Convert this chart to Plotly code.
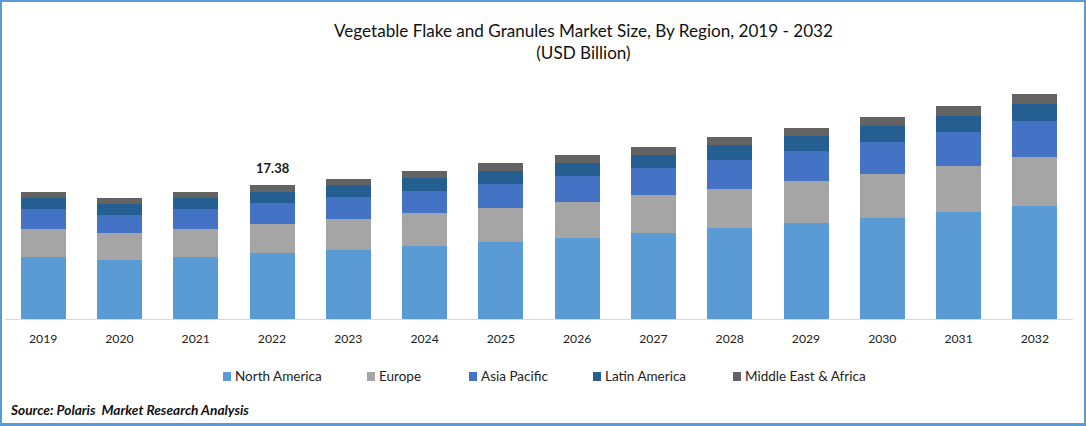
import plotly.graph_objects as go

years = ["2019", "2020", "2021", "2022", "2023", "2024", "2025", "2026", "2027", "2028", "2029", "2030", "2031", "2032"]

north_america = [8.04, 7.65, 8.04, 8.56, 8.95, 9.47, 9.99, 10.51, 11.15, 11.80, 12.45, 13.10, 13.88, 14.66]
europe = [3.63, 3.50, 3.63, 3.76, 4.02, 4.28, 4.41, 4.67, 4.93, 5.06, 5.45, 5.71, 5.97, 6.36]
asia_pacific = [2.59, 2.33, 2.59, 2.72, 2.85, 2.85, 3.11, 3.37, 3.50, 3.76, 3.89, 4.15, 4.41, 4.67]
latin_america = [1.43, 1.43, 1.43, 1.43, 1.56, 1.69, 1.69, 1.69, 1.69, 1.95, 1.95, 2.08, 2.08, 2.20]
middle_east_africa = [0.78, 0.78, 0.78, 0.91, 0.78, 0.91, 1.04, 1.04, 1.04, 1.04, 1.04, 1.17, 1.30, 1.30]

series_names = ["North America", "Europe", "Asia Pacific", "Latin America", "Middle East & Africa"]
series_values = [north_america, europe, asia_pacific, latin_america, middle_east_africa]
colors = ["#5B9BD5", "#A5A5A5", "#4472C4", "#255E91", "#636363"]

label_year = "2022"
label_total = 17.38

font = "Lato"
border = "#5B9BD5"

# plot area in page pixels, used to turn page positions into paper coords
plot_left, plot_width = 5, 1068
plot_bottom, plot_height = 319, 249


def px(x):
    return (x - plot_left) / plot_width


def py(y):
    return (plot_bottom - y) / plot_height


fig = go.Figure()
for name, values, color in zip(series_names, series_values, colors):
    fig.add_trace(go.Bar(x=years, y=values, name=name, marker=dict(color=color, line=dict(width=0))))

# category axis reads a numeric looking string as a position, so pass the index
fig.add_annotation(x=years.index(label_year), y=label_total, text="<b>%.2f</b>" % label_total, showarrow=False,
                   yanchor="bottom", xshift=1, yshift=7, font=dict(family=font, size=13, color="#1a1a1a"))

fig.add_annotation(x=px(583), y=py(18), xref="paper", yref="paper", xanchor="center", yanchor="top", showarrow=False,
                   text="Vegetable Flake and Granules Market Size, By Region, 2019 - 2032<br>(USD Billion)",
                   font=dict(family=font, size=17.1, color="#111111"))

# legend drawn by hand, the native one can't do these small swatches and gaps
legend_left = [223, 367, 469, 593, 733]
for name, color, left in zip(series_names, colors, legend_left):
    fig.add_shape(type="rect", xref="paper", yref="paper", x0=px(left), x1=px(left + 8),
                  y0=py(381), y1=py(372), fillcolor=color, line_width=0)
    fig.add_annotation(xref="paper", yref="paper", x=px(left + 10), y=py(376), text=name,
                       xanchor="left", yanchor="middle", showarrow=False,
                       font=dict(family=font, size=13.5, color="#222222"))

fig.add_annotation(xref="paper", yref="paper", x=px(8), y=py(409), xanchor="left",
                   yanchor="middle", showarrow=False, text="<b><i>Source: Polaris  Market Research Analysis</i></b>",
                   font=dict(family=font, size=13.7, color="#111111"))

# blue frame around the whole picture
for x0, x1, y0, y1 in [(0, 1086, 0, 2), (0, 1086, 423, 426), (0, 2, 0, 426), (1084, 1086, 0, 426)]:
    fig.add_shape(type="rect", xref="paper", yref="paper", fillcolor=border, line_width=0,
                  x0=px(x0), x1=px(x1), y0=py(y1), y1=py(y0))

fig.update_layout(
    width=1086,
    height=426,
    barmode="stack",
    bargap=0.41,
    showlegend=False,
    plot_bgcolor="white",
    paper_bgcolor="white",
    margin=dict(l=5, r=13, t=70, b=107),
    font=dict(family=font, size=13, color="#222222"),
)
fig.update_xaxes(type="category", showgrid=False, showline=True, linecolor="#D9D9D9", linewidth=1,
                 ticks="", ticklabelstandoff=8, tickfont=dict(family=font, size=12.2, color="#222222"))
fig.update_yaxes(range=[0, 32.3], visible=False)

# page has a default body margin that would push the frame out of the window
fig.write_html("out.html", config={"displayModeBar": False}, post_script="document.body.style.margin='0';")
